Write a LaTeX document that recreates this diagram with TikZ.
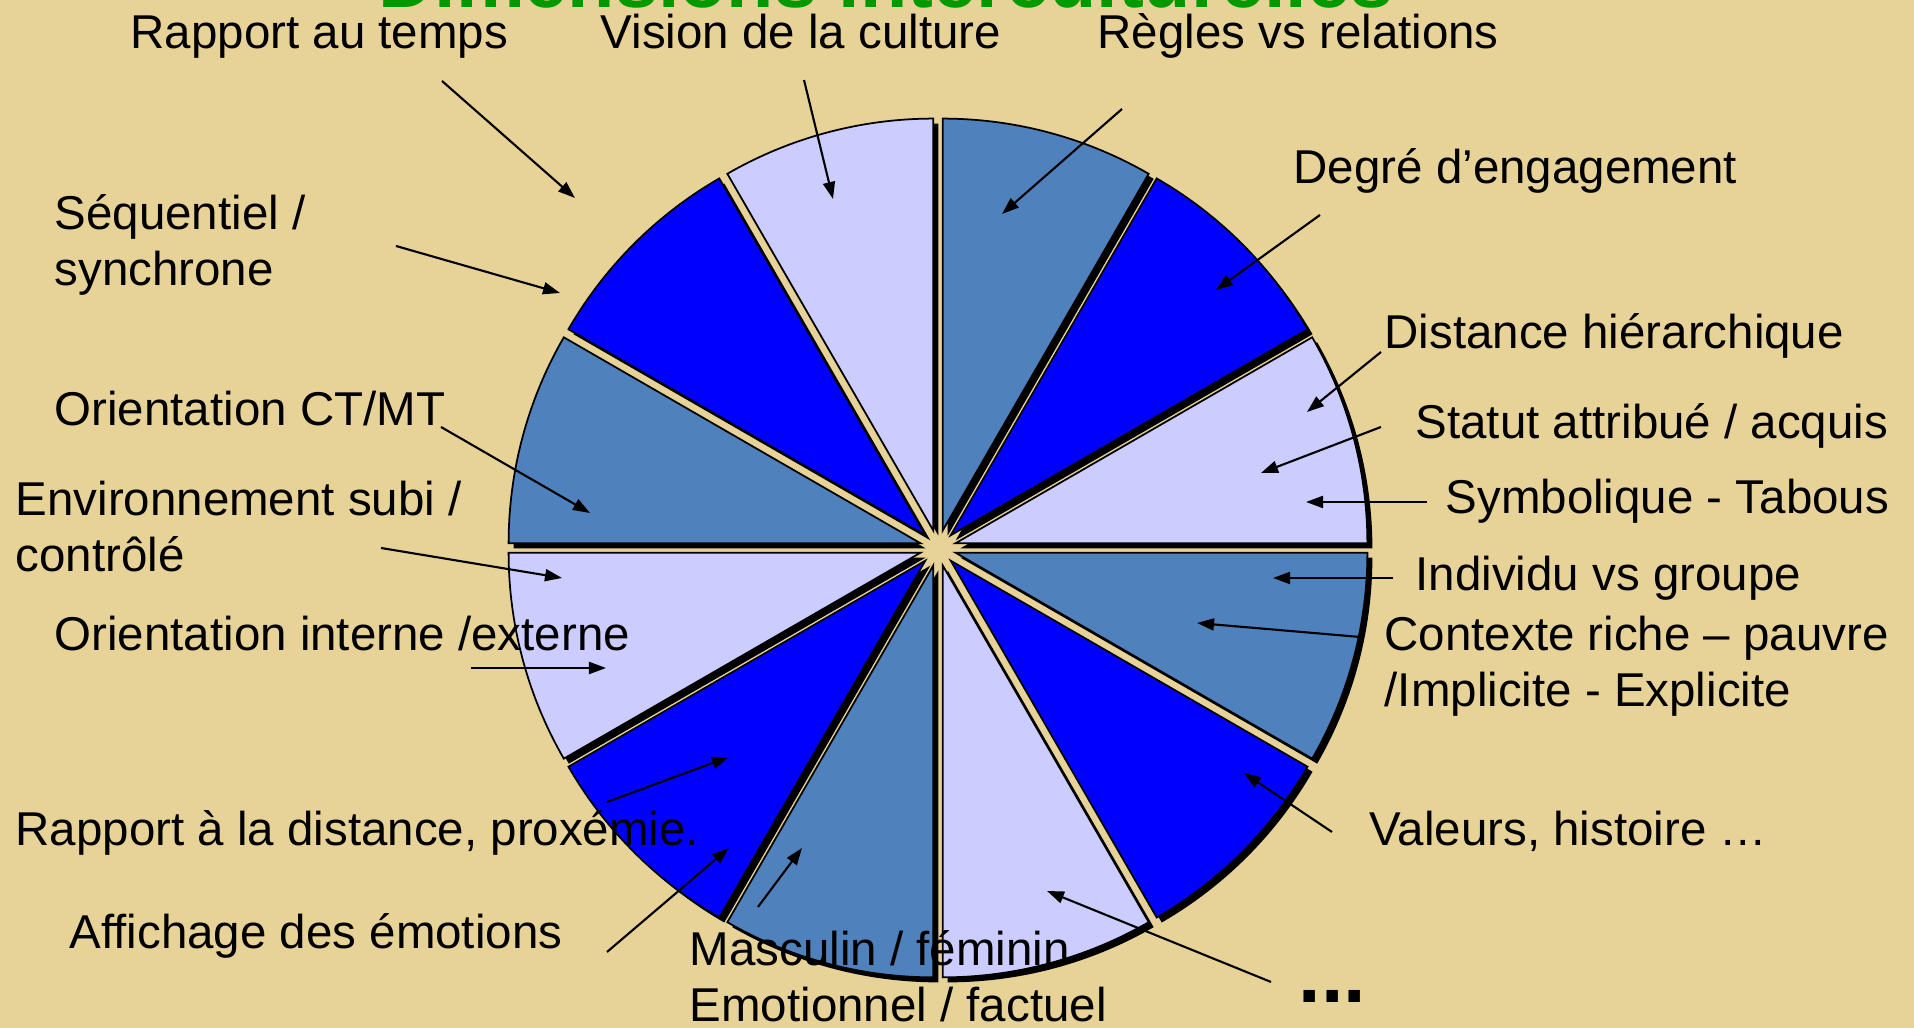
\documentclass[tikz,border=0pt]{standalone}
\usepackage{fontspec}
\setmainfont{Liberation Sans}
\usetikzlibrary{arrows.meta}
\definecolor{fond}{RGB}{231,211,152}
\definecolor{lavande}{RGB}{204,204,255}
\definecolor{bleu}{RGB}{0,0,255}
\definecolor{acier}{RGB}{79,129,189}
\definecolor{vert}{RGB}{0,153,0}
\tikzset{
  etiq/.style={anchor=base west,inner sep=0pt,align=left,yshift=-0.04cm,font=\fontsize{13.5}{16.2}\selectfont},
  fl/.style={->,line width=0.6pt},
}
\begin{document}
\begin{tikzpicture}[>={Triangle[length=1.7mm,width=1.2mm]},x=0.01cm,y=0.01cm]
	\def\R{412} % rayon
	\def\d{18}  % eclatement
	\fill[fond] (0,0) rectangle (1914,1028);
	\useasboundingbox (0,0) rectangle (1914,1028);
	\node[anchor=base,inner sep=0pt,text=vert,font=\bfseries\fontsize{22}{22}\selectfont] (titre) at (886,1020) {Dimensions interculturelles};
	\coordinate (O) at (938,480);
	\coordinate (Os) at (943,475);
	% ombres puis secteurs
	\foreach \a in {0,30,...,330}
		\fill[black] (Os) ++(\a+15:\d) -- ++(\a:\R) arc[start angle=\a,delta angle=30,radius=\R] -- cycle;
	\foreach \a/\c in {0/lavande,30/bleu,60/acier,90/lavande,120/bleu,150/acier,180/lavande,210/bleu,240/acier,270/lavande,300/bleu,330/acier}
		\filldraw[fill=\c,draw=black,line width=0.5pt] (O) ++(\a+15:\d) -- ++(\a:\R) arc[start angle=\a,delta angle=30,radius=\R] -- cycle;
	% etiquettes (base de la derniere ligne)
	\node[etiq] (tps) at (130,983) {Rapport au temps};
	\node[etiq] (vision) at (600,983) {Vision de la culture};
	\node[etiq] (regles) at (1097,983) {Règles vs relations};
	\node[etiq] (degre) at (1293,848) {Degré d’engagement};
	\node[etiq] (dist) at (1384,683) {Distance hiérarchique};
	\node[etiq] (statut) at (1415,593) {Statut attribué / acquis};
	\node[etiq] (symb) at (1445,518) {Symbolique - Tabous};
	\node[etiq] (indiv) at (1415,441) {Individu vs groupe};
	\node[etiq] (ctx) at (1384,325) {Contexte riche – pauvre\\/Implicite - Explicite};
	\node[etiq] (val) at (1369,186) {Valeurs, histoire …};
	\node[anchor=base west,inner sep=0pt,font=\bfseries\fontsize{23}{23}\selectfont] (etc) at (1298,25) {...};
	\node[etiq] (masc) at (689,66) {Masculin / féminin};
	\node[etiq] (emo) at (689,10) {Emotionnel / factuel};
	\node[etiq] (aff) at (69,83) {Affichage des émotions};
	\node[etiq] (prox) at (15,186) {Rapport à la distance, proxémie.};
	\node[etiq] (oie) at (54,381) {Orientation interne /externe};
	\node[etiq] (env) at (15,460) {Environnement subi /\\contrôlé};
	\node[etiq] (ctmt) at (54,606) {Orientation CT/MT};
	\node[etiq] (seq) at (54,746) {Séquentiel /\\synchrone};
	% fleches
	\coordinate (tpsA) at (442,947);   \coordinate (tpsB) at (575,830);
	\coordinate (visA) at (804,948);   \coordinate (visB) at (833,829);
	\coordinate (regA) at (1122,919);  \coordinate (regB) at (1002,814);
	\coordinate (degA) at (1320,813);  \coordinate (degB) at (1216,738);
	\coordinate (disA) at (1381,676);  \coordinate (disB) at (1307,616);
	\coordinate (staA) at (1381,601);  \coordinate (staB) at (1261,555);
	\coordinate (symA) at (1427,526);  \coordinate (symB) at (1306,526);
	\coordinate (indA) at (1393,450);  \coordinate (indB) at (1273,450);
	\coordinate (ctxA) at (1360,391);  \coordinate (ctxB) at (1197,405);
	\coordinate (valA) at (1332,196);  \coordinate (valB) at (1244,255);
	\coordinate (etcA) at (1271,46);   \coordinate (etcB) at (1047,137);
	\coordinate (masA) at (758,121);   \coordinate (masB) at (802,180);
	\coordinate (affA) at (607,76);    \coordinate (affB) at (729,180);
	\coordinate (proA) at (607,226);   \coordinate (proB) at (729,271);
	\coordinate (oieA) at (471,360);   \coordinate (oieB) at (606,360);
	\coordinate (envA) at (381,480);   \coordinate (envB) at (562,450);
	\coordinate (ctmA) at (441,601);   \coordinate (ctmB) at (590,515);
	\coordinate (seqA) at (396,782);   \coordinate (seqB) at (560,735);
	\foreach \n in {tps,vis,reg,deg,dis,sta,sym,ind,ctx,val,etc,mas,aff,pro,oie,env,ctm,seq}
		\draw[fl] (\n A) -- (\n B);
\end{tikzpicture}
\end{document}
